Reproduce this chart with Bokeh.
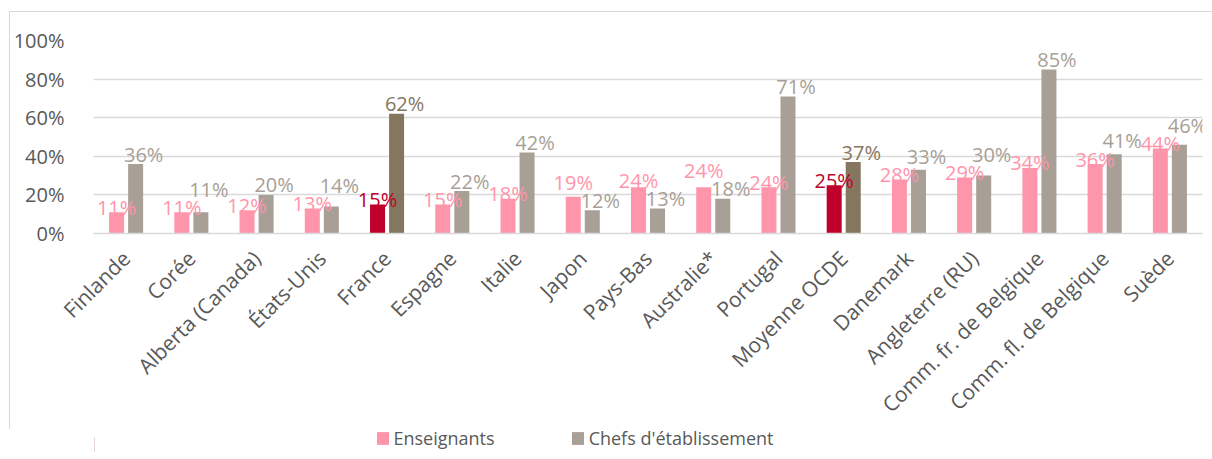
import math
from bokeh.plotting import figure
from bokeh.layouts import column
from bokeh.models import (ColumnDataSource, FactorRange, Range1d, Legend, LegendItem,
                          PrintfTickFormatter, FixedTicker)
from bokeh.transform import dodge
from bokeh.core.properties import value
from bokeh.embed import file_html
from bokeh.resources import INLINE

# ---- data -------------------------------------------------------------
categories = ["Finlande", "Corée", "Alberta (Canada)", "États-Unis", "France",
              "Espagne", "Italie", "Japon", "Pays-Bas", "Australie*", "Portugal",
              "Moyenne OCDE", "Danemark", "Angleterre (RU)",
              "Comm. fr. de Belgique", "Comm. fl. de Belgique", "Suède"]
enseignants = [11, 11, 12, 13, 15, 15, 18, 19, 24, 24, 24, 25, 28, 29, 34, 36, 44]
chefs = [36, 11, 20, 14, 62, 22, 42, 12, 13, 18, 71, 37, 33, 30, 85, 41, 46]
highlighted = ["France", "Moyenne OCDE"]
series_names = ["Enseignants", "Chefs d'établissement"]
y_ticks = [0, 20, 40, 60, 80, 100]

# ---- styles -----------------------------------------------------------
PINK, GRAY = "#FF95AA", "#A89F96"
RED, BROWN = "#C0002A", "#857660"
TXT = "#595959"
GRID = "#D9D9D9"
FONT = "Open Sans"
BORDER = "1.5px solid #D9D9D9"

FRAME_W, FRAME_H = 1108, 192
LEFT, TOP, RIGHT = 80, 28, 12

px = FRAME_H / (y_ticks[-1] - y_ticks[0])

# label placement (pixel offsets, simple collision avoidance like Excel)
t_off, h_off = [], []
for vt, vh in zip(enseignants, chefs):
    bt = vt * px + 5
    bh = vh * px + 10
    if abs(bt - bh) < 18:
        if vt > vh:
            bt = bh + 18
        else:
            bh = bt + 18
    t_off.append(-(bt - vt * px))
    h_off.append(-(bh - vh * px))

t_col = [RED if c in highlighted else PINK for c in categories]
h_col = [BROWN if c in highlighted else GRAY for c in categories]

src = ColumnDataSource(dict(
    cat=categories, ens=enseignants, chefs=chefs,
    t_col=t_col, h_col=h_col,
    t_lab=[f"{v}%" for v in enseignants], h_lab=[f"{v}%" for v in chefs],
    t_off=t_off, h_off=h_off,
))

p = figure(x_range=FactorRange(*categories, range_padding=0),
           y_range=Range1d(y_ticks[0], y_ticks[-1]),
           frame_width=FRAME_W, frame_height=FRAME_H,
           output_backend="svg", toolbar_location=None,
           min_border_left=LEFT, min_border_top=TOP,
           min_border_right=RIGHT, min_border_bottom=0)
# outer chart border (only its left and top edges fall inside the window)
p.styles = {"border-left": BORDER, "border-top": BORDER,
            "margin-left": "9px", "margin-top": "11px"}
p.outline_line_color = None
p.background_fill_color = "white"
p.border_fill_color = "white"

OFF = 0.146
BW = 0.23
p.vbar(x=dodge("cat", -OFF, range=p.x_range), top="ens", width=BW, source=src,
       fill_color="t_col", line_color=None)
p.vbar(x=dodge("cat", OFF, range=p.x_range), top="chefs", width=BW, source=src,
       fill_color="h_col", line_color=None)

p.text(x=dodge("cat", -OFF, range=p.x_range), y="ens", text="t_lab", source=src,
       text_color="t_col", text_font=value(FONT), text_font_size="20px",
       text_align="center", text_baseline="alphabetic", y_offset="t_off")
p.text(x=dodge("cat", OFF, range=p.x_range), y="chefs", text="h_lab", source=src,
       text_color="h_col", text_font=value(FONT), text_font_size="20px",
       text_align="center", text_baseline="alphabetic", x_offset=8, y_offset="h_off")

# axes
p.yaxis.ticker = FixedTicker(ticks=y_ticks)
p.yaxis.formatter = PrintfTickFormatter(format="%d%%")
p.yaxis.axis_line_color = None
p.yaxis.major_tick_line_color = None
p.yaxis.minor_tick_line_color = None
p.yaxis.major_label_standoff = 23
p.yaxis.major_label_text_font = FONT
p.yaxis.major_label_text_font_size = "20px"
p.yaxis.major_label_text_color = TXT

p.xaxis.axis_line_color = GRID
p.xaxis.axis_line_width = 1.5
p.xaxis.major_tick_line_color = None
p.xaxis.minor_tick_line_color = None
p.xaxis.major_label_orientation = math.pi / 4
p.xaxis.major_label_standoff = 15
p.xaxis.major_label_text_font = FONT
p.xaxis.major_label_text_font_size = "21px"
p.xaxis.major_label_text_color = TXT

p.xgrid.grid_line_color = None
p.ygrid.grid_line_color = GRID
p.ygrid.grid_line_width = 1.5

# ---- legend strip (separate small figure placed under the axis labels) ----
lf = figure(width=1190, height=30, x_range=Range1d(0, 1), y_range=Range1d(0, 1),
            output_backend="svg", toolbar_location=None,
            x_axis_location=None, y_axis_location=None, min_border=0)
lf.styles = {"margin-left": "10.5px", "margin-top": "-7px"}
lf.outline_line_color = None
lf.background_fill_alpha = 0
lf.border_fill_alpha = 0
lf.xgrid.grid_line_color = None
lf.ygrid.grid_line_color = None
# swatch renderers: one off-range point each, so only their legend swatch shows
lr1 = lf.vbar(x=[-5], top=[0.5], width=0.1, fill_color=PINK, line_color=None)
lr2 = lf.vbar(x=[-5], top=[0.5], width=0.1, fill_color=GRAY, line_color=None)
legend = Legend(items=[LegendItem(label=series_names[0], renderers=[lr1]),
                       LegendItem(label=series_names[1], renderers=[lr2])],
                orientation="horizontal", location=(281, 2),
                glyph_width=15, glyph_height=16, label_standoff=4, spacing=75,
                padding=0, margin=0, border_line_color=None, background_fill_alpha=0,
                label_text_font=FONT, label_text_font_size="18px",
                label_text_color=TXT)
lf.add_layout(legend)

open("out.html", "w").write(file_html(column(p, lf), INLINE))
